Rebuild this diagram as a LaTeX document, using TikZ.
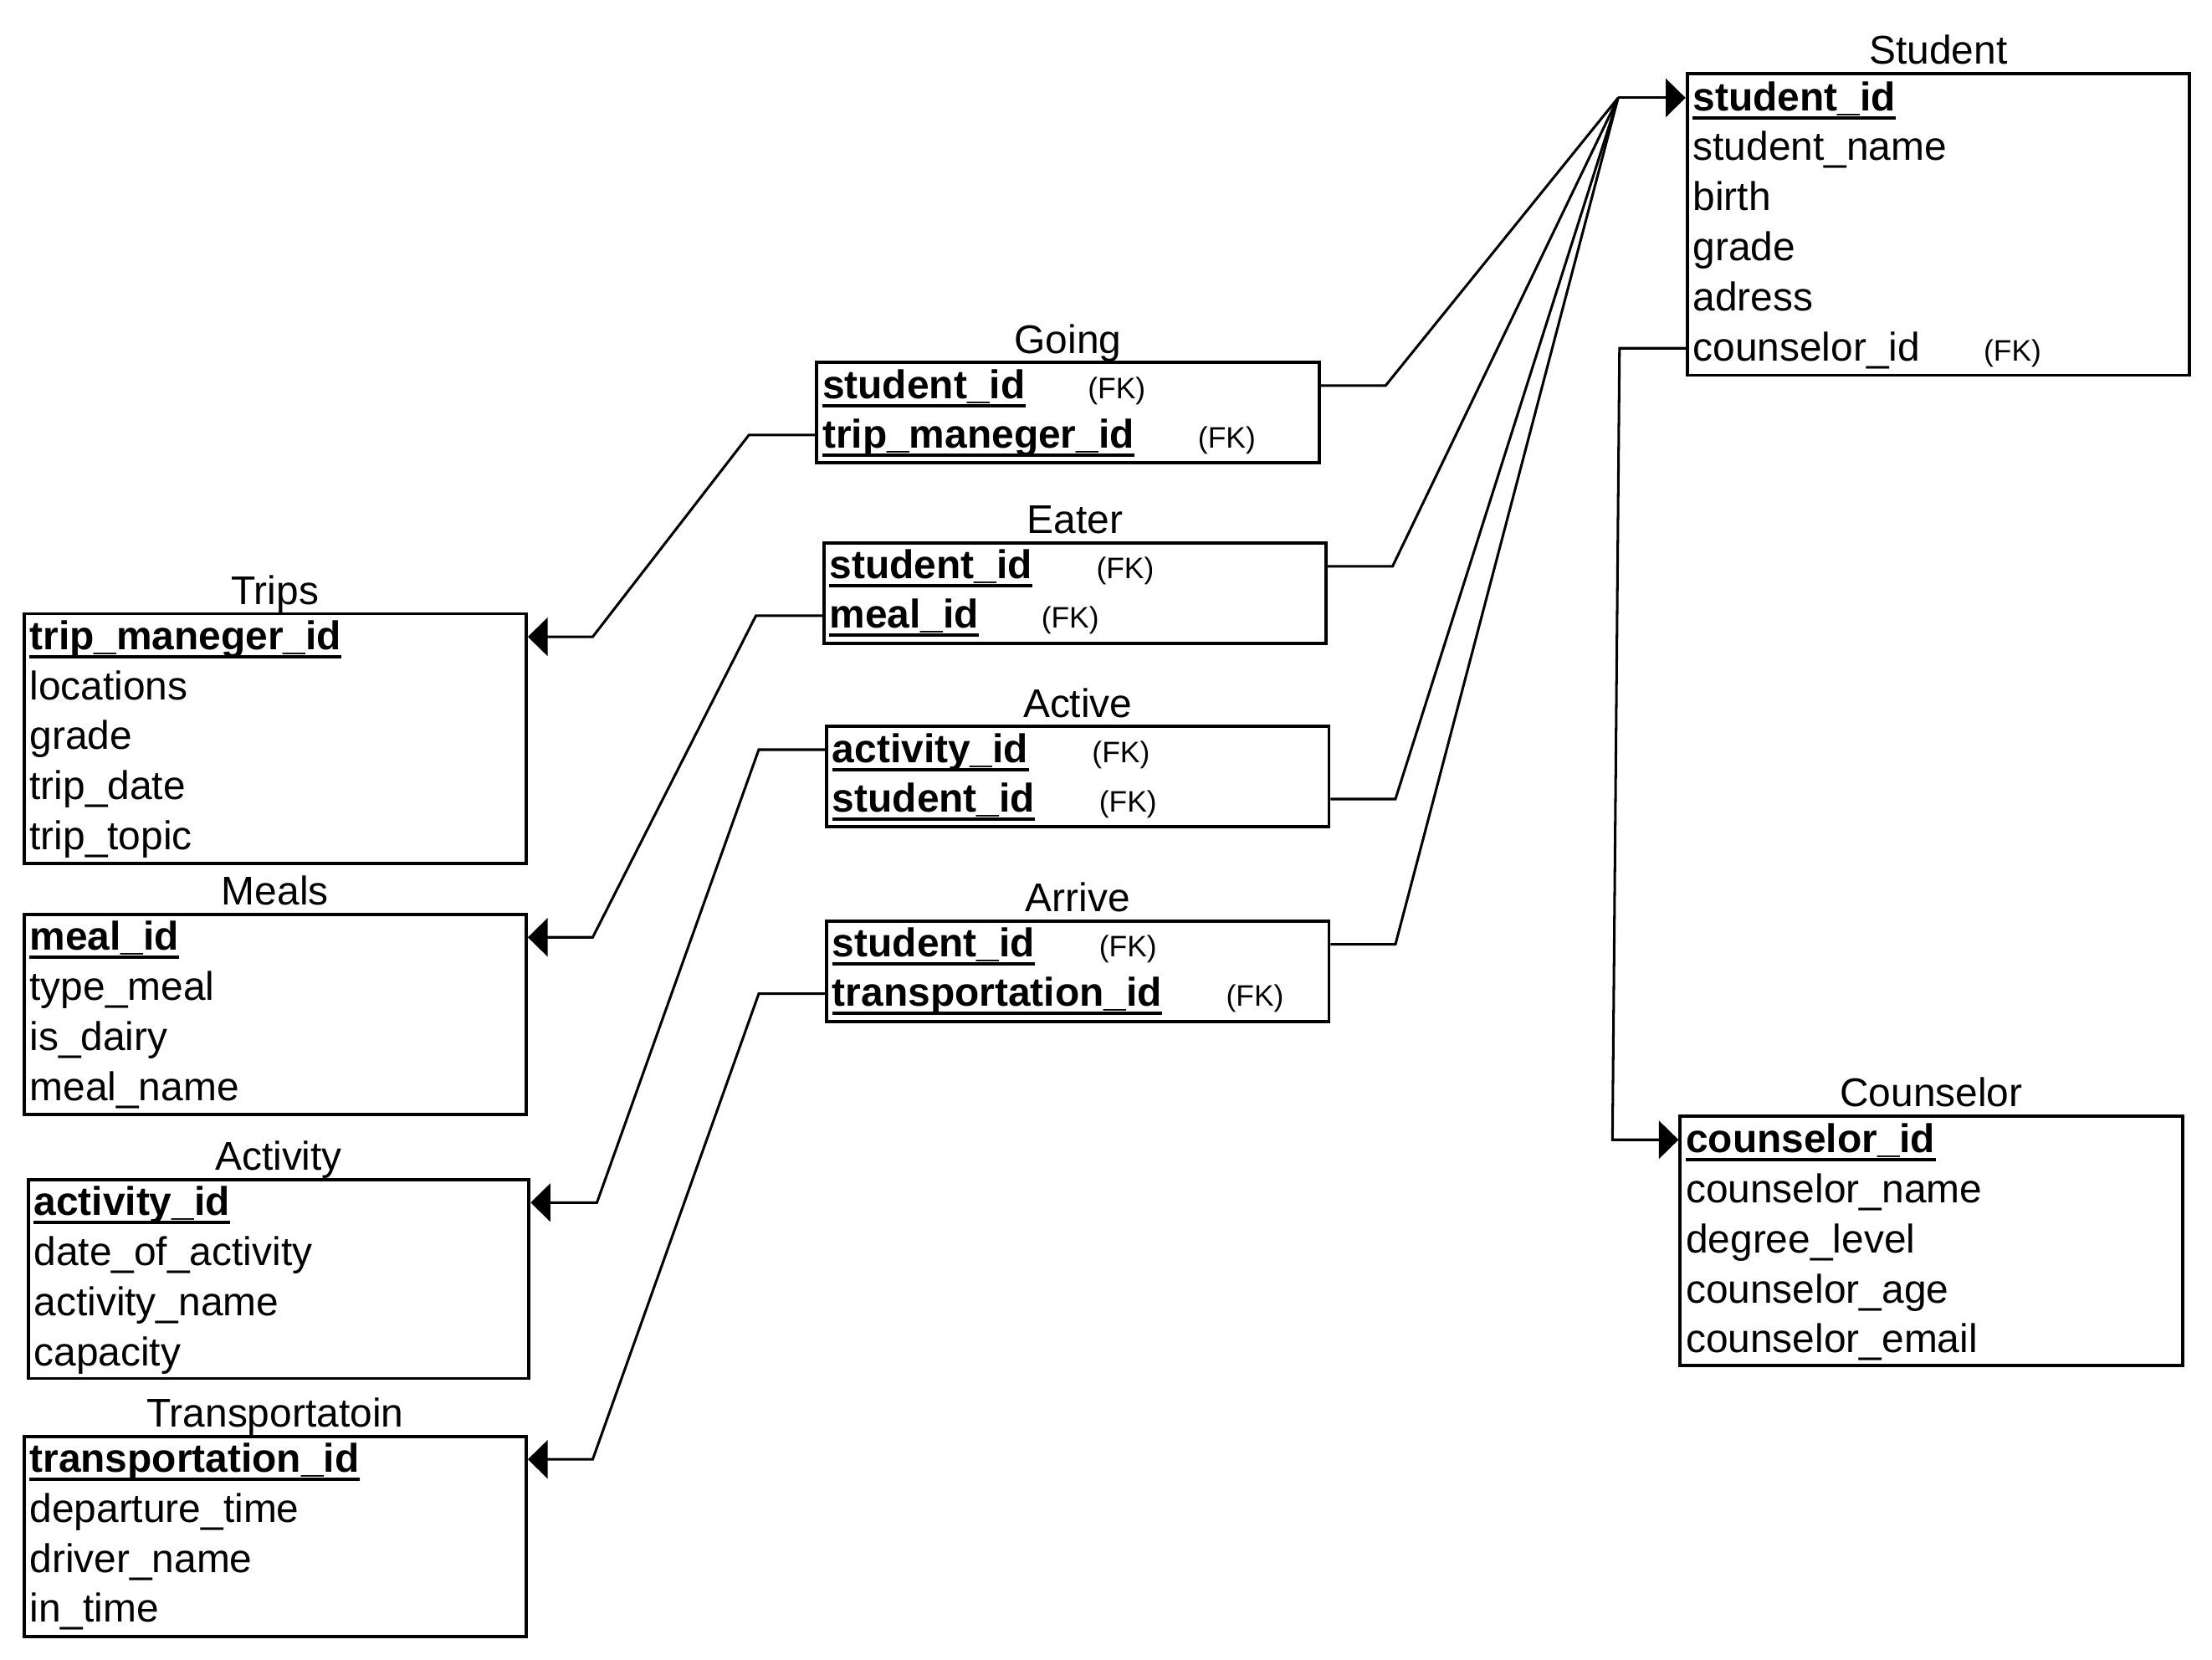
\documentclass[tikz,border=0pt]{standalone}
\usepackage{fontspec}
\setmainfont{Liberation Sans}
\usetikzlibrary{calc,arrows.meta}
\tikzset{
  tbl/.style={draw, line width=2.3pt, rectangle, inner sep=0pt, minimum width=356pt},
  ttl/.style={anchor=base, inner sep=0pt, font=\fontsize{28.4}{34}\selectfont},
  field/.style={anchor=west, inner sep=0pt, text height=24pt, text depth=6pt, font=\fontsize{28.4}{34}\selectfont},
  keyf/.style={field, font=\fontsize{28.4}{34}\selectfont\bfseries},
  fk/.style={anchor=west, inner sep=0pt, text height=24pt, text depth=6pt, font=\fontsize{21}{25}\selectfont},
  ulline/.style={line width=2.4pt},
  conn/.style={line width=1.8pt},
  arr/.style={conn, -{Triangle[length=14pt,width=27pt]}},
}
\newcommand\keyline[1]{\draw[ulline] ($(#1.base west)+(0,5)$) -- ($(#1.base east)+(0,5)$);}
\begin{document}
\begin{tikzpicture}[x=1pt,y=-1pt]
\useasboundingbox (0,0) rectangle (1568,1176);
% ---------- Student
\node[tbl, minimum height=214pt] (student) at (1374,159) {};
\node[ttl] (studentT) at ($(student.north)+(0,-5.5)$) {Student};
\node[keyf] (s1) at ($(student.north west)+(5,18.5)$) {student\_id};
\node[field] (s2) at ($(student.north west)+(5,54)$) {student\_name};
\node[field] (s3) at ($(student.north west)+(5,89.5)$) {birth};
\node[field] (s4) at ($(student.north west)+(5,125)$) {grade};
\node[field] (s5) at ($(student.north west)+(5,160.5)$) {adress};
\node[field] (s6) at ($(student.north west)+(5,196)$) {counselor\_id};
\node[fk] (s6fk) at (1406,0 |- s6) {(FK)};
\keyline{s1}
% ---------- Counselor
\node[tbl, minimum height=177pt] (coun) at (1369,879.5) {};
\node[ttl] (counT) at ($(coun.north)+(0,-5.5)$) {Counselor};
\node[keyf] (c1) at ($(coun.north west)+(5,18)$) {counselor\_id};
\node[field] (c2) at ($(coun.north west)+(5,53.5)$) {counselor\_name};
\node[field] (c3) at ($(coun.north west)+(5,89)$) {degree\_level};
\node[field] (c4) at ($(coun.north west)+(5,124.5)$) {counselor\_age};
\node[field] (c5) at ($(coun.north west)+(5,160)$) {counselor\_email};
\keyline{c1}
% ---------- Going
\node[tbl, minimum height=71pt] (going) at (757,292.5) {};
\node[ttl] (goingT) at ($(going.north)+(0,-5.5)$) {Going};
\node[keyf] (g1) at ($(going.north west)+(5,17.5)$) {student\_id};
\node[keyf] (g2) at ($(going.north west)+(5,52.5)$) {trip\_maneger\_id};
\node[fk] (g1fk) at (771,0 |- g1) {(FK)};
\node[fk] (g2fk) at (849,0 |- g2) {(FK)};
\keyline{g1}\keyline{g2}
% ---------- Eater
\node[tbl, minimum height=71pt] (eater) at (762,420.5) {};
\node[ttl] (eaterT) at ($(eater.north)+(0,-5.5)$) {Eater};
\node[keyf] (e1) at ($(eater.north west)+(5,17.5)$) {student\_id};
\node[keyf] (e2) at ($(eater.north west)+(5,52.5)$) {meal\_id};
\node[fk] (e1fk) at (777,0 |- e1) {(FK)};
\node[fk] (e2fk) at (738,0 |- e2) {(FK)};
\keyline{e1}\keyline{e2}
% ---------- Active
\node[tbl, minimum height=71pt] (active) at (764,550.5) {};
\node[ttl] (activeT) at ($(active.north)+(0,-5.5)$) {Active};
\node[keyf] (a1) at ($(active.north west)+(5,17.5)$) {activity\_id};
\node[keyf] (a2) at ($(active.north west)+(5,52.5)$) {student\_id};
\node[fk] (a1fk) at (774,0 |- a1) {(FK)};
\node[fk] (a2fk) at (779,0 |- a2) {(FK)};
\keyline{a1}\keyline{a2}
% ---------- Arrive
\node[tbl, minimum height=71pt] (arrive) at (764,688.5) {};
\node[ttl] (arriveT) at ($(arrive.north)+(0,-5.5)$) {Arrive};
\node[keyf] (r1) at ($(arrive.north west)+(5,17.5)$) {student\_id};
\node[keyf] (r2) at ($(arrive.north west)+(5,52.5)$) {transportation\_id};
\node[fk] (r1fk) at (779,0 |- r1) {(FK)};
\node[fk] (r2fk) at (869,0 |- r2) {(FK)};
\keyline{r1}\keyline{r2}
% ---------- Trips
\node[tbl, minimum height=177pt] (trips) at (195,523.5) {};
\node[ttl] (tripsT) at ($(trips.north)+(0,-5.5)$) {Trips};
\node[keyf] (t1) at ($(trips.north west)+(5,17.5)$) {trip\_maneger\_id};
\node[field] (t2) at ($(trips.north west)+(5,53)$) {locations};
\node[field] (t3) at ($(trips.north west)+(5,88.5)$) {grade};
\node[field] (t4) at ($(trips.north west)+(5,124)$) {trip\_date};
\node[field] (t5) at ($(trips.north west)+(5,159.5)$) {trip\_topic};
\keyline{t1}
% ---------- Meals
\node[tbl, minimum height=142pt] (meals) at (195,719) {};
\node[ttl] (mealsT) at ($(meals.north)+(0,-5.5)$) {Meals};
\node[keyf] (m1) at ($(meals.north west)+(5,17.5)$) {meal\_id};
\node[field] (m2) at ($(meals.north west)+(5,53)$) {type\_meal};
\node[field] (m3) at ($(meals.north west)+(5,88.5)$) {is\_dairy};
\node[field] (m4) at ($(meals.north west)+(5,124)$) {meal\_name};
\keyline{m1}
% ---------- Activity
\node[tbl, minimum width=355pt, minimum height=141pt] (activity) at (197.5,906.5) {};
\node[ttl] (activityT) at ($(activity.north)+(0,-5.5)$) {Activity};
\node[keyf] (v1) at ($(activity.north west)+(5,17.5)$) {activity\_id};
\node[field] (v2) at ($(activity.north west)+(5,53)$) {date\_of\_activity};
\node[field] (v3) at ($(activity.north west)+(5,88.5)$) {activity\_name};
\node[field] (v4) at ($(activity.north west)+(5,124)$) {capacity};
\keyline{v1}
% ---------- Transportatoin
\node[tbl, minimum height=142pt] (trans) at (195,1089) {};
\node[ttl] (transT) at ($(trans.north)+(0,-5.5)$) {Transportatoin};
\node[keyf] (p1) at ($(trans.north west)+(5,17.5)$) {transportation\_id};
\node[field] (p2) at ($(trans.north west)+(5,53)$) {departure\_time};
\node[field] (p3) at ($(trans.north west)+(5,88.5)$) {driver\_name};
\node[field] (p4) at ($(trans.north west)+(5,124)$) {in\_time};
\keyline{p1}
% ---------- connectors to Student
\coordinate (hub) at (1147,0 |- s1);
\draw[arr] (hub) -- (student.west |- s1);
\draw[conn] (going.east |- g1) -- ++(46,0) -- (hub);
\draw[conn] (eater.east |- e1) -- ++(46,0) -- (hub);
\draw[conn] (active.east |- a2) -- ++(46,0) -- (hub);
\draw[conn] (arrive.east |- r1) -- ++(46,0) -- (hub);
% ---------- connectors to the left tables
\draw[arr] (going.west |- g2) -- ++(-47,0) -- ($(trips.east |- t1)+(46,0)$) -- (trips.east |- t1);
\draw[arr] (eater.west |- e2) -- ++(-47,0) -- ($(meals.east |- m1)+(46,0)$) -- (meals.east |- m1);
\draw[arr] (active.west |- a1) -- ++(-47,0) -- ($(activity.east |- v1)+(47,0)$) -- (activity.east |- v1);
\draw[arr] (arrive.west |- r2) -- ++(-47,0) -- ($(trans.east |- p1)+(46,0)$) -- (trans.east |- p1);
% ---------- Student to Counselor
\draw[arr] (student.west |- s6) -- (1148,0 |- s6) -- (1143,0 |- c1) -- (coun.west |- c1);
\end{tikzpicture}
\end{document}
